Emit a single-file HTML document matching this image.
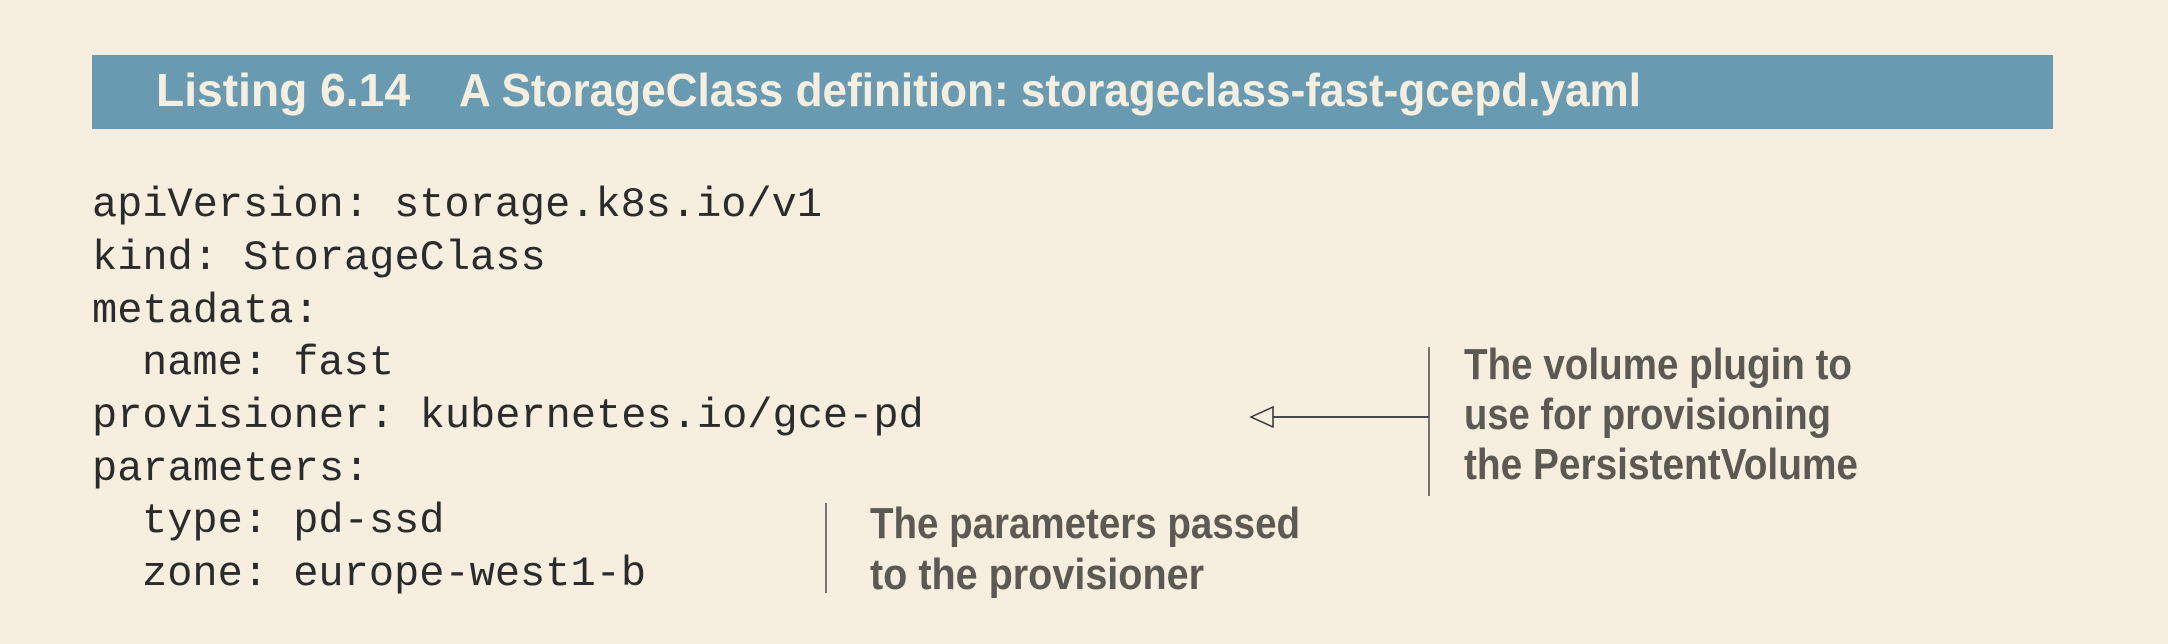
<!DOCTYPE html>
<html><head><meta charset="utf-8"><style>
html,body{margin:0;padding:0;background:#f6efdf;}
svg{display:block}
.code{font-family:"Liberation Mono",monospace;font-size:42px;fill:#2b2b2b;white-space:pre;}
.hd{font-family:"Liberation Sans Narrow","Liberation Sans",sans-serif;font-weight:bold;font-size:46px;fill:#f6efdf;}
.an{font-family:"Liberation Sans Narrow","Liberation Sans",sans-serif;font-weight:bold;font-size:44px;fill:#5c5953;}
</style></head><body>
<svg width="2168" height="644" viewBox="0 0 2168 644" xmlns="http://www.w3.org/2000/svg" xml:space="preserve">
<rect width="2168" height="644" fill="#f6efdf"/>
<rect x="92" y="55" width="1961" height="74" fill="#689bb1"/>
<text class="hd" x="156" y="106" textLength="254" lengthAdjust="spacingAndGlyphs">Listing 6.14</text>
<text class="hd" x="459" y="106" textLength="1182" lengthAdjust="spacingAndGlyphs">A StorageClass definition: storageclass-fast-gcepd.yaml</text>
<g class="code">
<text x="92" y="216" textLength="730" lengthAdjust="spacingAndGlyphs">apiVersion: storage.k8s.io/v1</text>
<text x="92" y="269">kind: StorageClass</text>
<text x="92" y="322">metadata:</text>
<text x="142" y="374">name: fast</text>
<text x="92" y="427">provisioner: kubernetes.io/gce-pd</text>
<text x="92" y="480">parameters:</text>
<text x="142" y="532">type: pd-ssd</text>
<text x="142" y="585">zone: europe-west1-b</text>
</g>
<line x1="1429" y1="347" x2="1429" y2="496" stroke="#4a4a4a" stroke-width="1.5"/>
<line x1="1273" y1="417" x2="1429" y2="417" stroke="#4a4a4a" stroke-width="2"/>
<polygon points="1251,417 1273,407 1273,427" fill="#f6efdf" stroke="#333" stroke-width="1.5"/>
<text class="an" x="1464" y="379" textLength="388" lengthAdjust="spacingAndGlyphs">The volume plugin to</text>
<text class="an" x="1464" y="429" textLength="367" lengthAdjust="spacingAndGlyphs">use for provisioning</text>
<text class="an" x="1464" y="479" textLength="394" lengthAdjust="spacingAndGlyphs">the PersistentVolume</text>
<line x1="826" y1="503" x2="826" y2="593" stroke="#4a4a4a" stroke-width="1.5"/>
<text class="an" x="870" y="538" textLength="430" lengthAdjust="spacingAndGlyphs">The parameters passed</text>
<text class="an" x="870" y="589" textLength="334" lengthAdjust="spacingAndGlyphs">to the provisioner</text>
</svg>
</body></html>
